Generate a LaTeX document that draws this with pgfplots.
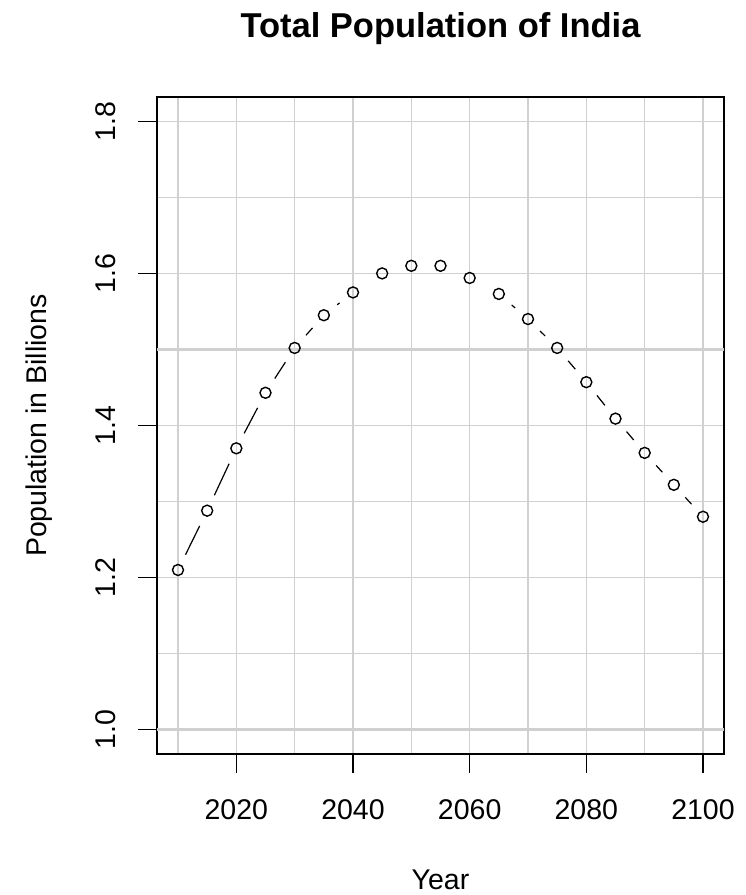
\documentclass[border=0pt]{standalone}
\usepackage{pgfplots}
\usepackage{pgfplotstable}
\pgfplotsset{compat=1.18}
\usepackage{fontspec}
\setmainfont{Liberation Sans}
\definecolor{gridgray}{HTML}{D0D0D0}

\pgfplotstableread{
year pop
2010 1.210
2015 1.288
2020 1.370
2025 1.443
2030 1.502
2035 1.545
2040 1.575
2045 1.600
2050 1.610
2055 1.610
2060 1.594
2065 1.573
2070 1.540
2075 1.502
2080 1.457
2085 1.409
2090 1.364
2095 1.322
2100 1.280
}\popdata

\begin{document}
\begin{tikzpicture}
\useasboundingbox (-157pt,-141pt) rectangle (589pt,754pt);
\begin{axis}[
  at={(0pt,0pt)}, anchor=south west,
  scale only axis, width=567pt, height=657pt,
  xmin=2006.4, xmax=2103.6, ymin=0.968, ymax=1.832,
  xtick={2020,2040,...,2100},
  ytick={1.0,1.2,1.4,1.6,1.8},
  minor xtick={2010,2030,2050,2070,2090},
  minor ytick={1.1,1.3,1.5,1.7},
  extra y ticks={1.0,1.5},
  extra y tick labels={},
  extra y tick style={major tick length=0pt, grid=major, major grid style={gridgray, line width=2.4pt}},
  grid=both,
  major grid style={gridgray, line width=1.3pt},
  minor grid style={gridgray, line width=1.3pt},
  tick align=outside, tick pos=left,
  major tick length=19pt, minor tick length=0pt,
  tick style={black, line width=1.2pt},
  axis line style={black, line width=1.2pt},
  /pgf/number format/assume math mode=true,
  tick label style={font=\fontsize{28.5}{34}\selectfont},
  xticklabel style={/pgf/number format/1000 sep={}, anchor=base},
  xticklabel shift=46pt,
  yticklabel style={/pgf/number format/fixed, /pgf/number format/fixed zerofill, /pgf/number format/precision=1, rotate=90, anchor=base},
  yticklabel shift=22pt,
  every axis plot/.append style={black, line width=1.2pt},
]
\pgfplotsset{seg/.style={black, line width=1.2pt, no marks, shorten >=17pt, shorten <=17pt}}
\addplot[seg] coordinates {(2010,1.210) (2015,1.288)};
\addplot[seg] coordinates {(2015,1.288) (2020,1.370)};
\addplot[seg] coordinates {(2020,1.370) (2025,1.443)};
\addplot[seg] coordinates {(2025,1.443) (2030,1.502)};
\addplot[seg] coordinates {(2030,1.502) (2035,1.545)};
\addplot[seg] coordinates {(2035,1.545) (2040,1.575)};
\addplot[seg] coordinates {(2065,1.573) (2070,1.540)};
\addplot[seg] coordinates {(2070,1.540) (2075,1.502)};
\addplot[seg] coordinates {(2075,1.502) (2080,1.457)};
\addplot[seg] coordinates {(2080,1.457) (2085,1.409)};
\addplot[seg] coordinates {(2085,1.409) (2090,1.364)};
\addplot[seg] coordinates {(2090,1.364) (2095,1.322)};
\addplot[seg] coordinates {(2095,1.322) (2100,1.280)};
\addplot[only marks, mark=o, mark size=5.5pt, mark options={black, line width=1.4pt}] table[x=year, y=pop] {\popdata};
\end{axis}
\node[anchor=base, font=\fontsize{34.5}{40}\selectfont\bfseries] at (283.5pt,716pt) {Total Population of India};
\node[anchor=base, font=\fontsize{28.5}{34}\selectfont] at (283.5pt,-135pt) {Year};
\node[anchor=base, rotate=90, font=\fontsize{28.5}{34}\selectfont] at (-110pt,328.5pt) {Population in Billions};
\end{tikzpicture}
\end{document}
